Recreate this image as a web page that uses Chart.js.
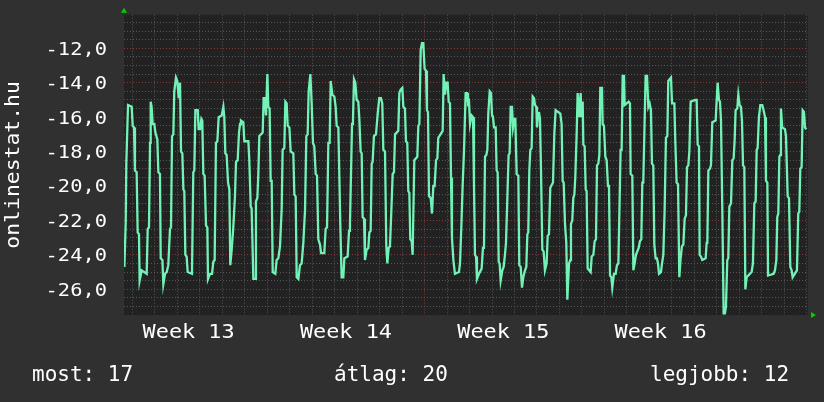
<!DOCTYPE html>
<html>
<head>
<meta charset="utf-8">
<script src="https://cdn.jsdelivr.net/npm/chart.js@4/dist/chart.umd.min.js"></script>
<style>
    html, body { margin: 0; padding: 0; background: #303030; }
    #wrap { width: 824px; height: 402px; }
</style>
</head>
<body>
<div id="wrap"><canvas id="chart"></canvas></div>
<script>
// hours since the left edge of the graph (Tue 15:00, week 13)
const hours = [
    0.4, 1.8, 2.5, 3.2, 4.3, 8.2, 9.3, 10.7, 11.7, 13.5, 14.6, 16.0, 16.7, 18.9, 24.2, 25.3, 26.7, 27.8, 28.5, 29.5,
    30.6, 32.4, 33.5, 35.6, 36.7, 38.4, 39.2, 41.0, 42.0, 43.8, 45.6, 47.3, 49.1, 50.2, 51.3, 52.7, 53.7, 55.5, 56.9, 58.4,
    59.8, 60.9, 62.3, 63.4, 64.4, 65.5, 66.9, 68.0, 72.6, 74.0, 75.1, 76.2, 78.7, 79.7, 81.2, 82.6, 83.6, 84.7, 86.1, 87.6,
    89.0, 89.7, 91.8, 94.0, 95.4, 96.8, 98.2, 99.7, 101.1, 104.3, 106.1, 107.1, 108.2, 109.6, 111.1, 112.5, 113.5, 115.0, 116.7,
    118.5, 119.6, 121.4, 122.8, 123.9, 124.9, 127.4, 128.5, 132.8, 133.8, 135.3, 136.3, 138.1, 139.9, 140.9, 142.4, 143.4, 144.5,
    148.1, 149.1, 150.6, 151.6, 153.1, 154.1, 155.5, 156.6, 157.7, 158.8, 161.6, 163.0, 164.8, 166.6, 168.4, 169.4, 171.2, 172.3,
    173.7, 174.8, 176.6, 178.0, 180.8, 181.9, 183.3, 184.4, 186.2, 187.9, 189.7, 191.5, 193.3, 194.7, 196.1, 197.2, 199.0, 200.4,
    201.8, 203.2, 204.7, 206.1, 207.5, 209.3, 210.4, 213.9, 215.3, 216.8, 218.2, 219.6, 220.7, 222.5, 224.6, 226.0, 227.1, 228.9,
    229.9, 231.0, 232.4, 234.2, 235.3, 238.8, 240.3,
    241.3, 242.4, 243.5, 244.5, 245.6, 247.0, 248.4, 250.2, 251.3, 252.7, 253.8, 254.8, 256.3, 257.3, 259.1, 260.9, 262.0, 263.4,
    264.5, 265.5, 266.9, 269.1, 270.9, 272.6, 274.4, 275.8, 276.9, 278.7, 280.1, 281.2, 282.6, 284.0, 285.5, 286.9, 288.3, 289.4,
    292.9, 294.0, 295.4, 297.2, 298.3, 300.0, 301.1, 302.5, 303.6, 304.7, 305.7, 307.2, 308.2, 310.0, 313.2, 314.3, 315.4, 316.8,
    318.2, 319.6, 321.0, 322.5, 323.5, 324.6, 325.7, 327.5, 328.9, 330.3, 331.7, 333.2, 334.6, 335.6, 340.3, 341.3, 342.8, 344.2,
    345.6, 346.7, 348.1, 349.2, 350.2, 351.7, 353.4, 357.7, 358.8, 360.2, 361.6, 363.1,
    364.8, 366.3, 367.3, 368.4, 369.5, 370.5, 371.2, 372.7, 373.7, 374.8, 375.9, 376.9, 379.1, 381.9, 383.3, 384.4, 385.5, 386.9,
    388.0, 389.0, 390.5, 391.9, 393.0, 394.0, 395.1, 396.9, 397.9, 399.0, 400.1, 401.1, 402.2, 404.0, 405.4, 406.8, 407.9, 409.3,
    410.7, 411.8, 412.9, 414.3, 415.4, 416.8, 417.9, 419.3, 421.1, 422.1, 423.6, 425.0, 426.4, 428.2, 429.6, 430.7, 431.7, 432.8,
    433.9, 435.3, 436.4, 437.8, 438.9, 440.3, 441.0, 442.1, 443.1, 444.2, 445.3, 446.7, 448.1, 449.5, 451.3, 452.4, 453.8, 455.2,
    458.1, 459.5, 460.9, 465.9, 467.3, 468.4, 469.5, 470.9, 472.3, 473.4, 475.2, 476.6, 477.3, 478.7, 479.8, 480.9, 481.9, 483.4,
    484.4, 486.2, 487.6, 488.7, 489.8,
    490.5, 491.9, 493.0, 494.0, 495.1, 498.3, 499.4, 501.2, 502.6, 504.0, 505.1, 506.5, 507.6, 508.6, 510.4, 511.1, 512.5, 514.0,
    515.4, 516.8, 517.9, 519.0, 520.4, 521.4, 523.2, 525.0, 526.4, 527.9, 528.9, 530.3, 531.4, 532.5, 533.9, 534.6, 538.9, 540.3,
    541.0, 542.8, 543.9, 545.3, 546.7, 549.6, 551.0, 552.4, 553.5, 554.5, 555.6, 557.0, 558.5, 559.9, 561.3, 562.7, 563.8, 565.2,
    566.3, 567.7, 569.1, 570.2, 571.3, 573.4, 574.5, 575.9, 577.3, 578.7, 580.2, 581.2, 584.1, 585.2, 587.7, 588.7, 590.1, 591.6,
    593.0, 594.4, 595.8, 597.3, 598.7, 600.1, 601.2, 602.6, 603.7, 605.1, 610.1,
    611.5, 612.6, 614.0, 614.7, 616.1, 617.5, 621.1, 622.2, 622.9, 624.0, 625.7, 626.8, 628.2, 631.8, 632.8, 633.9, 635.3, 636.4,
    637.5, 638.9, 640.3, 641.7, 642.8, 644.2, 645.3, 646.4, 648.2, 649.6, 651.0, 652.1, 653.1, 654.9, 656.0, 657.4, 658.8, 659.9,
    661.0, 662.4, 663.5, 664.9, 670.2, 671.6, 673.1, 674.5, 675.6, 676.6, 678.0, 679.5, 681.6, 683.0, 684.5, 685.5, 687.0, 687.7,
    693.7, 695.1, 696.6, 697.6, 698.7, 699.8, 700.8, 701.5, 702.9, 705.8, 706.9, 708.7, 710.1, 711.5, 712.9, 714.0, 718.6, 720.0,
    721.1, 722.2, 723.6, 724.7, 726.1, 727.2, 728.6
];
const values = [
    -24.7, -22.2, -18.6, -18.6, -15.3, -15.4, -16.5, -16.6, -19.1, -19.2, -22.7, -22.8, -25.5, -24.9, -25.1, -22.5, -22.4, -17.5, -15.1, -15.4,
    -16.4, -16.4, -16.9, -17.3, -19.2, -19.3, -24.2, -24.3, -25.7, -25.1, -25.0, -24.6, -22.5, -22.4, -17.1, -17.0, -14.5, -13.7, -13.9, -14.9,
    -14.0, -18.0, -18.1, -20.2, -20.3, -24.0, -24.1, -25.0, -25.1, -19.2, -19.1, -15.6, -15.6, -16.7, -16.7, -16.1, -16.2, -19.3, -19.4, -22.3,
    -22.4, -25.4, -25.1, -25.1, -24.4, -24.3, -17.5, -17.4, -16.0, -15.9, -15.4, -16.0, -18.1, -18.2, -19.8, -20.2, -24.6, -23.7, -22.4,
    -20.6, -18.6, -18.5, -16.9, -16.4, -16.2, -16.3, -17.4, -17.4, -18.5, -21.2, -21.3, -25.4, -25.4, -20.9, -20.7, -19.4, -17.1,
    -16.9, -14.9, -14.9, -15.9, -13.5, -15.4, -15.5, -19.7, -19.7, -25.0, -25.1, -24.3, -24.2, -23.5, -21.3, -17.9, -17.8, -15.1,
    -15.2, -16.5, -16.6, -18.0, -18.1, -20.5, -20.6, -25.3, -25.4, -24.6, -24.5, -23.3, -21.4, -17.1, -17.0, -14.5, -13.5, -15.2,
    -17.5, -17.7, -19.3, -19.4, -23.1, -23.4, -23.9, -23.9, -22.5, -22.4, -17.5, -17.5, -13.9, -14.7, -14.8, -15.4, -16.5, -16.6,
    -19.3, -22.3, -25.3, -25.3, -24.2, -24.1, -22.6,
    -22.2, -19.3, -16.4, -16.2, -13.8, -14.0, -15.0, -15.1, -16.1, -18.0, -18.1, -21.8, -21.9, -24.3, -23.7, -23.6, -22.7, -22.6,
    -18.7, -18.6, -17.1, -17.0, -15.8, -14.9, -14.9, -15.2, -17.9, -18.0, -23.5, -24.5, -23.6, -23.5, -21.4, -19.3, -19.2, -17.0,
    -16.8, -14.6, -14.4, -14.3, -15.4, -15.5, -17.4, -17.5, -20.3, -20.4, -23.1, -23.2, -24.0, -18.5, -18.3, -16.5, -16.4, -12.1,
    -11.7, -11.7, -13.2, -13.3, -15.6, -15.7, -20.6, -20.7, -21.6, -20.0, -20.0, -18.5, -18.4, -17.2, -16.8, -13.5, -14.7, -14.0,
    -14.0, -15.1, -15.2, -19.5, -23.0, -24.3, -25.1, -25.0, -24.5, -22.4, -20.0, -17.9,
    -14.6, -14.6, -15.2, -15.1, -16.4, -16.4, -15.9, -16.0, -19.8, -24.0, -24.1, -25.4, -25.1, -24.8, -23.6, -23.6, -18.3, -18.2,
    -17.9, -15.8, -14.5, -14.6, -15.9, -16.0, -16.6, -16.6, -19.1, -19.2, -24.4, -24.5, -25.5, -24.9, -24.7, -24.0, -23.3, -20.8,
    -18.2, -18.1, -15.4, -15.4, -16.6, -16.1, -16.1, -19.3, -19.4, -24.6, -24.7, -25.9, -25.3, -24.9, -24.7, -22.8, -22.7, -19.1,
    -17.9, -17.8, -14.8, -14.9, -15.3, -15.4, -16.6, -15.8, -15.7, -16.1, -19.1, -23.7, -23.8, -24.9, -24.5, -22.9, -22.8, -20.1,
    -19.8, -17.0, -15.6, -15.8, -16.4, -19.7, -19.8, -22.2, -23.3, -26.6, -24.5, -24.3, -22.2, -22.0, -20.7, -20.5, -19.5, -16.9,
    -14.6, -16.0, -14.6, -16.0, -15.1,
    -17.6, -17.7, -20.2, -20.3, -24.8, -25.0, -24.1, -24.0, -23.2, -23.1, -18.8, -18.7, -18.2, -14.3, -14.3, -16.4, -16.5, -18.3,
    -18.5, -20.0, -20.0, -25.2, -25.3, -25.9, -25.1, -25.1, -24.6, -24.5, -21.8, -17.9, -17.9, -13.6, -13.6, -15.3, -15.1, -15.2,
    -19.3, -19.4, -24.9, -24.5, -24.0, -23.6, -23.2, -23.1, -19.8, -19.8, -17.1, -13.6, -13.6, -15.4, -15.2, -15.6, -18.7, -18.8,
    -23.4, -24.2, -24.2, -24.5, -25.1, -25.0, -24.5, -24.0, -21.4, -17.2, -17.1, -13.9, -13.7, -15.2, -15.2, -17.4, -19.8, -19.9,
    -25.3, -24.2, -23.5, -23.4, -21.9, -21.7, -18.9, -18.8, -18.0, -15.1, -15.0,
    -15.0, -17.6, -17.7, -24.0, -24.1, -24.3, -24.2, -23.3, -23.3, -19.1, -19.0, -18.8, -16.3, -16.2, -15.1, -14.0, -15.0, -15.1,
    -16.2, -21.4, -27.4, -27.4, -27.0, -24.3, -24.2, -21.2, -21.0, -18.5, -18.4, -17.3, -15.6, -15.5, -14.7, -15.3, -15.4, -16.2,
    -18.8, -18.9, -26.0, -25.3, -25.0, -24.5, -21.0, -20.9, -17.9, -17.8, -16.0, -15.3, -15.3, -15.6, -16.0, -19.7, -19.8, -25.2,
    -25.1, -24.9, -24.3, -21.8, -21.6, -18.3, -18.2, -15.5, -16.6, -16.7, -17.1, -20.6, -20.7, -24.7, -24.9, -25.3, -24.9, -21.6,
    -21.5, -19.0, -18.9, -15.6, -15.7, -16.6, -16.7
];

const weekNumbers = [13, 14, 15, 16];
const rangeHours = 730.4;        // ~30.4 days shown
const firstMidnight = 9;         // first day boundary (hours)
const firstWeekStart = 153;      // Monday 00:00 of week 14
const firstWeekMid = 69;         // middle of week 13
const yMin = -27.5;
const yMax = -10.05;
const yLabelStep = 2;
const axisTitle = "onlinestat.hu";
const legendNames = ["most", "átlag", "legjobb"];
const legendValues = [17, 20, 12];

const FONT = '"DejaVu Sans Mono", monospace';
const GRID_MINOR = "#575757";
const GRID_MAJOR = "#853a3a";

function drawStretched(ctx, text, x, y, size, sx, align) {
    ctx.save();
    ctx.font = size + "px " + FONT;
    ctx.textAlign = align;
    ctx.textBaseline = "alphabetic";
    ctx.translate(x, y);
    ctx.scale(sx, 1);
    ctx.fillText(text, 0, 0);
    ctx.restore();
}

const decor = {
    id: "decor",
    beforeDraw(chart) {
        const { ctx, chartArea: a } = chart;
        ctx.save();
        ctx.fillStyle = "#303030";
        ctx.fillRect(0, 0, chart.width, chart.height);
        ctx.fillStyle = "#222222";
        ctx.fillRect(a.left, a.top, a.right - a.left, a.bottom - a.top);
        ctx.restore();
    },
    afterDraw(chart) {
        const { ctx, chartArea: a } = chart;
        const xs = chart.scales.x, ys = chart.scales.y;
        ctx.save();
        ctx.fillStyle = "#ffffff";

        // y labels
        ys.ticks.forEach(t => {
            if (t.value % yLabelStep !== 0 || t.value <= yMin + 1) return;
            const txt = t.value.toFixed(1).replace(".", ",");
            drawStretched(ctx, txt, a.left - 17, ys.getPixelForValue(t.value) + 6.5, 17, 1.2, "right");
        });

        // x labels
        xs.ticks.forEach(t => {
            const k = (t.value - firstWeekMid) / 168;
            if (!Number.isInteger(k) || k < 0 || k >= weekNumbers.length) return;
            drawStretched(ctx, "Week " + weekNumbers[k], xs.getPixelForValue(t.value), 338, 19, 1.15, "center");
        });

        // axis title
        ctx.save();
        ctx.translate(19, (a.top + a.bottom) / 2);
        ctx.rotate(-Math.PI / 2);
        drawStretched(ctx, axisTitle, 0, 0, 20, 1.07, "center");
        ctx.restore();

        // legend line
        const legendX = [32, 334, 650];
        legendNames.forEach((n, i) => {
            drawStretched(ctx, n + ": " + legendValues[i], legendX[i], 381, 21, 1.0, "left");
        });

        // axis arrows
        ctx.fillStyle = "#00d000";
        ctx.beginPath();
        ctx.moveTo(a.left - 3, a.top - 2);
        ctx.lineTo(a.left + 3, a.top - 2);
        ctx.lineTo(a.left, a.top - 7);
        ctx.closePath();
        ctx.fill();
        ctx.beginPath();
        ctx.moveTo(a.right + 3, a.bottom - 3);
        ctx.lineTo(a.right + 3, a.bottom + 3);
        ctx.lineTo(a.right + 8, a.bottom);
        ctx.closePath();
        ctx.fill();
        ctx.restore();
    }
};

new Chart(document.getElementById("chart"), {
    type: "line",
    data: {
        datasets: [{
            data: hours.map((h, i) => ({ x: h, y: values[i] })),
            borderColor: "#72f2b6",
            borderWidth: 2.3,
            pointRadius: 0,
            tension: 0,
            fill: false
        }]
    },
    options: {
        responsive: true,
        maintainAspectRatio: false,
        animation: false,
        layout: { padding: { top: 14.7, right: 16, bottom: 0, left: 0 } },
        plugins: { legend: { display: false }, tooltip: { enabled: false } },
        scales: {
            x: {
                type: "linear",
                min: 0,
                max: rangeHours,
                afterBuildTicks: s => {
                    const t = [];
                    for (let v = firstMidnight; v < rangeHours; v += 12) t.push({ value: v });
                    s.ticks = t;
                },
                afterFit: s => { s.height = 402 - 315.1; },
                ticks: { display: false },
                grid: {
                    drawTicks: false,
                    lineWidth: 1,
                    color: c => {
                        const v = c.tick.value;
                        if ((v - firstMidnight) % 24 !== 0) return "rgba(0,0,0,0)";
                        return (v - firstWeekStart) % 168 === 0 ? GRID_MAJOR : GRID_MINOR;
                    }
                },
                border: { display: false, dash: [1, 2] }
            },
            y: {
                min: yMin,
                max: yMax,
                afterBuildTicks: s => {
                    const t = [];
                    for (let v = yMin + 0.5; v <= -10.5; v += 0.5) t.push({ value: v });
                    s.ticks = t;
                },
                afterFit: s => { s.width = 124; },
                ticks: { display: false },
                grid: {
                    drawTicks: false,
                    lineWidth: 1,
                    color: c => (c.tick.value % yLabelStep === 0 ? GRID_MAJOR : GRID_MINOR)
                },
                border: { display: false, dash: [1, 2] }
            }
        }
    },
    plugins: [decor]
});
</script>
</body>
</html>
